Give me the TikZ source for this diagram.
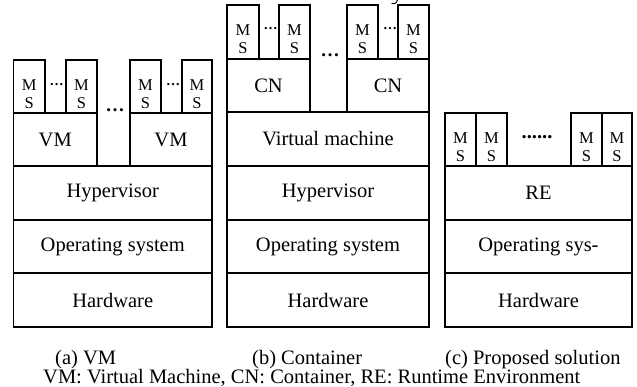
\documentclass[tikz,border=0pt]{standalone}
\usepackage{fontspec}
\setmainfont{Liberation Serif}
\newcommand\laybox[7]{\node[#2,minimum width={(#5-#3)*1pt},minimum height={(#6-#4)*1pt}] (#1) at ({(#3+#5)/2},{(#4+#6)/2}) {#7};}
\newcommand\msat[5]{\laybox{#1}{box}{#2}{#3}{#4}{#5}{}\node[mstext] (#1-t) at ([yshift=-7.5pt]#1.center) {M\\S};}
\begin{document}
\begin{tikzpicture}[x=1pt,y=-1pt,
  box/.style={draw=black,line width=1.5pt,inner sep=0pt,outer sep=0pt,font=\fontsize{20.5}{24}\selectfont},
  mstext/.style={inner sep=0pt,align=center,font=\fontsize{16.5}{18}\selectfont},
  dotsm/.style={inner sep=0pt,anchor=base,font=\fontsize{14}{16}\selectfont\bfseries},
  dotbig/.style={inner sep=0pt,anchor=base,font=\fontsize{19}{20}\selectfont\bfseries},
  captext/.style={inner sep=0pt,anchor=base west,font=\fontsize{20.5}{24}\selectfont}]
\useasboundingbox (0,0) rectangle (637,387);
% stray fragment at top (cut-off descender)
\coordinate (fragA) at (397.5,0);
\coordinate (fragB) at (391.5,3.5);
\draw[line width=0.9pt] (fragA) .. controls (396,4) and (394,4.5) .. (fragB);
% ---- panel (a)
\msat{msa1}{13.5}{60}{45}{113}
\msat{msa2}{66}{60}{97}{113}
\msat{msa3}{130}{60}{161}{113}
\msat{msa4}{182}{60}{212}{113}
\laybox{vma1}{box}{13.5}{113}{97}{166}{VM}
\laybox{vma2}{box}{130}{113}{212}{166}{VM}
\laybox{hypa}{box}{13.5}{166}{212}{220}{Hypervisor}
\laybox{osa}{box}{13.5}{220}{212}{273}{Operating system}
\laybox{hwa}{box}{13.5}{273}{212}{327}{Hardware}
\node[dotsm] (da1) at (56.5,86) {\ldots};
\node[dotsm] (da2) at (173,86) {\ldots};
\node[dotbig] (da3) at (115,111.5) {\ldots};
% ---- panel (b)
\msat{msb1}{227}{5}{259}{59}
\msat{msb2}{279}{5}{310}{59}
\msat{msb3}{347}{5}{378}{59}
\msat{msb4}{398}{5}{429}{59}
\laybox{cnb1}{box}{227}{59}{310}{112}{CN}
\laybox{cnb2}{box}{347}{59}{429}{112}{CN}
\laybox{vmb}{box}{227}{112}{429}{166}{Virtual machine}
\laybox{hypb}{box}{227}{166}{429}{220}{Hypervisor}
\laybox{osb}{box}{227}{220}{429}{273}{Operating system}
\laybox{hwb}{box}{227}{273}{429}{327}{Hardware}
\node[dotsm] (db1) at (270.5,30) {\ldots};
\node[dotsm] (db2) at (390,30) {\ldots};
\node[dotbig] (db3) at (330,56.5) {\ldots};
% ---- panel (c)
\msat{msc1}{445}{113}{476}{166}
\msat{msc2}{476}{113}{507}{166}
\msat{msc3}{571}{113}{602}{166}
\msat{msc4}{602}{113}{632}{166}
\laybox{rec}{box}{445}{166}{632}{220}{RE}
\laybox{osc}{box}{445}{220}{632}{273}{Operating sys-}
\laybox{hwc}{box}{445}{273}{632}{327}{Hardware}
\node[inner sep=0pt,anchor=base,font=\fontsize{20.5}{24}\selectfont\bfseries] (dc) at (537,139) {......};
% ---- captions
\node[captext] (capa) at (55,364) {(a) VM};
\node[captext] (capb) at (252,364) {(b) Container};
\node[captext] (capc) at (445,364) {(c) Proposed solution};
\node[captext] (legend) at (43,383) {VM: Virtual Machine, CN: Container, RE: Runtime Environment};
\end{tikzpicture}
\end{document}
